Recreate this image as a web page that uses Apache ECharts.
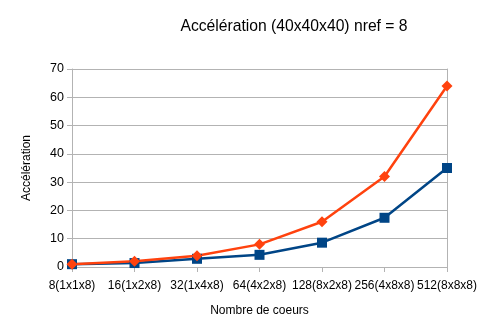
<!DOCTYPE html>
<html>
<head>
<meta charset="utf-8">
<script src="https://cdn.jsdelivr.net/npm/echarts@6/dist/echarts.min.js"></script>
<style>
  html, body { margin: 0; padding: 0; background: #fff; }
  #chart { width: 493px; height: 336px; }
</style>
</head>
<body>
<div id="chart"></div>
<script>
// Core counts (with process layout) on the horizontal axis
const categories = ['8(1x1x8)', '16(1x2x8)', '32(1x4x8)', '64(4x2x8)', '128(8x2x8)', '256(4x8x8)', '512(8x8x8)'];
// Measured speed-up
const measured = [1, 1.4, 2.9, 4.3, 8.6, 17.4, 35];
// Ideal speed-up
const ideal = [1, 2, 4, 8, 16, 32, 64];

const gridColor = '#b3b3b3';
const font = 'Liberation Sans, Arial, sans-serif';

const chart = echarts.init(document.getElementById('chart'), null, { renderer: 'canvas' });
chart.setOption({
  animation: false,
  backgroundColor: '#ffffff',
  title: {
    text: 'Accélération (40x40x40) nref = 8',
    left: 289,
    top: 14,
    textAlign: 'center',
    textStyle: { fontFamily: font, fontSize: 15.7, fontWeight: 'normal', color: '#000' }
  },
  grid: { left: 72, right: 46, top: 69, bottom: 69, containLabel: false },
  xAxis: {
    type: 'category',
    data: categories,
    boundaryGap: false,
    name: 'Nombre de coeurs',
    nameLocation: 'middle',
    nameGap: 38,
    nameTextStyle: { fontFamily: font, fontSize: 12, color: '#000' },
    axisLine: { show: true, lineStyle: { color: gridColor, width: 1 } },
    axisTick: { show: true, alignWithLabel: true, length: 5, lineStyle: { color: gridColor } },
    axisLabel: { fontFamily: font, fontSize: 12, color: '#000', margin: 13, interval: 0 },
    splitLine: { show: false }
  },
  yAxis: [
    {
      type: 'value',
      min: 0,
      max: 70,
      interval: 10,
      name: 'Accélération',
      nameLocation: 'middle',
      nameGap: 39,
      nameRotate: 90,
      nameTextStyle: { fontFamily: font, fontSize: 12, color: '#000' },
      axisLine: { show: true, lineStyle: { color: gridColor, width: 1 } },
      axisTick: { show: true, length: 5, lineStyle: { color: gridColor } },
      axisLabel: { fontFamily: font, fontSize: 12.5, color: '#000', margin: 8 },
      splitLine: { show: true, lineStyle: { color: gridColor, width: 1 } }
    },
    {
      type: 'value',
      position: 'right',
      min: 0,
      max: 70,
      interval: 10,
      axisLine: { show: true, lineStyle: { color: gridColor, width: 1 } },
      axisTick: { show: false },
      axisLabel: { show: false },
      splitLine: { show: false }
    }
  ],
  series: [
    {
      name: 'Mesurée',
      type: 'line',
      data: measured,
      yAxisIndex: 0,
      symbol: 'rect',
      symbolSize: 10,
      lineStyle: { color: '#004586', width: 2.5 },
      itemStyle: { color: '#004586' }
    },
    {
      name: 'Idéale',
      type: 'line',
      data: ideal,
      yAxisIndex: 0,
      symbol: 'path://M0,-1L1,0L0,1L-1,0Z',
      symbolSize: 11,
      lineStyle: { color: '#ff420e', width: 2.5 },
      itemStyle: { color: '#ff420e' }
    }
  ]
});
</script>
</body>
</html>
